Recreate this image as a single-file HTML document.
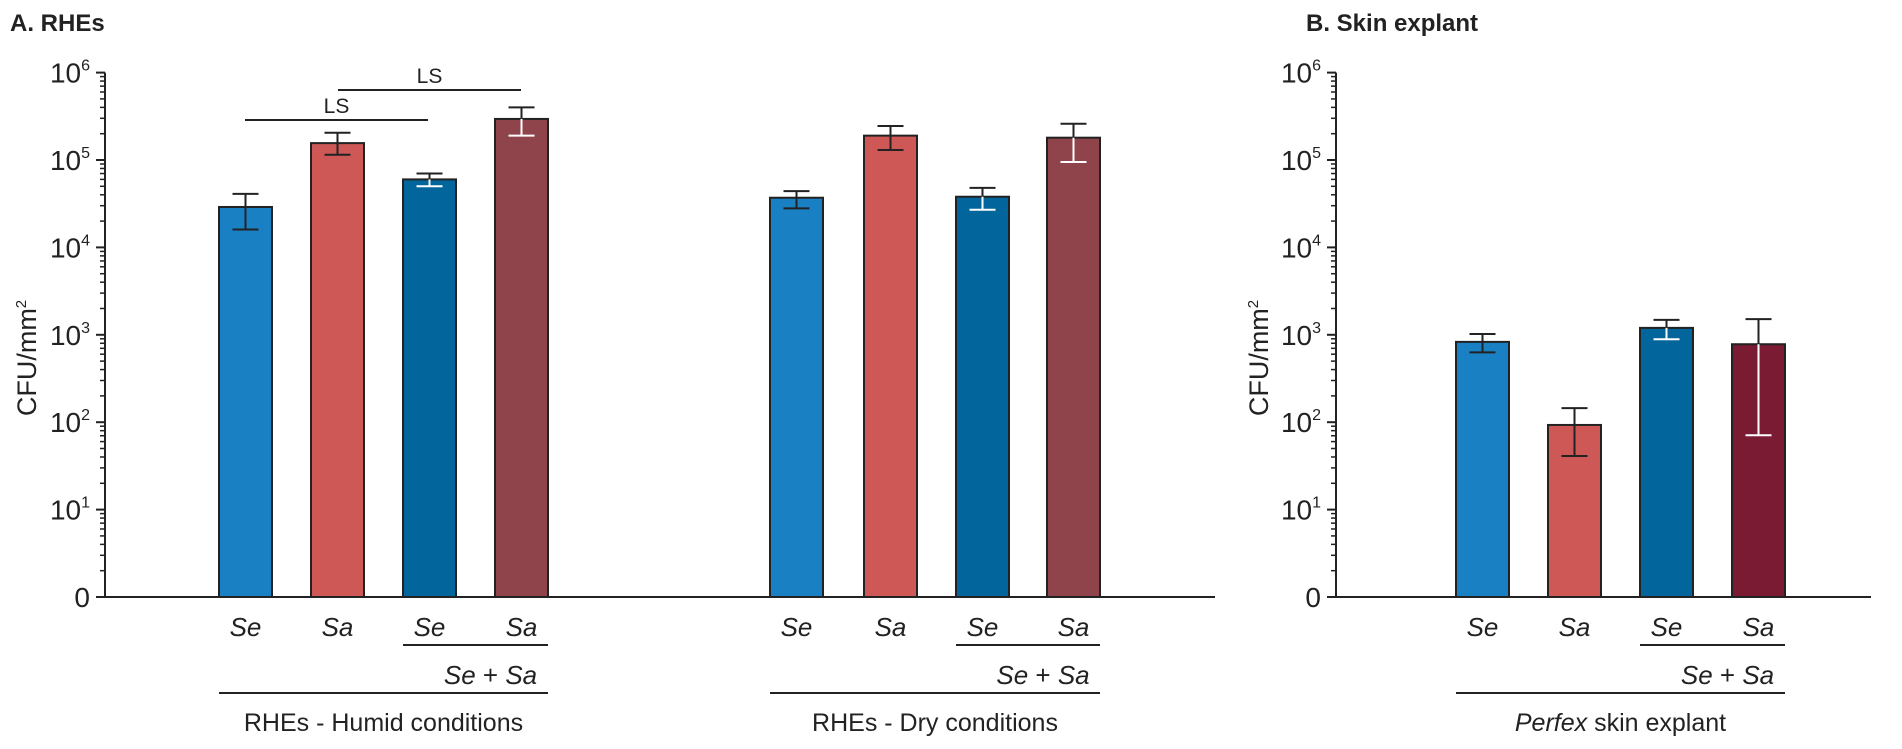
<!DOCTYPE html>
<html><head><meta charset="utf-8"><style>
body{margin:0;background:#fff;}
svg{display:block;font-family:"Liberation Sans Narrow","Liberation Sans",sans-serif;}
</style></head><body>
<svg id="chart" width="1902" height="749" viewBox="0 0 1902 749"></svg>
<script>
const groups = ["RHEs - Humid conditions","RHEs - Dry conditions","Perfex skin explant"];
const barLabels = ["Se","Sa","Se","Sa"];
const humidVals = [29000,156000,60000,295000];
const humidHi = [41000,205000,70000,400000];
const humidLo = [16000,115000,50000,190000];
const dryVals = [37000,190000,38000,180000];
const dryHi = [44000,245000,48000,260000];
const dryLo = [28000,130000,27000,95000];
const skinVals = [830,93,1200,780];
const skinHi = [1020,145,1480,1510];
const skinLo = [630,41,890,71];
const yTickLabels = ["0","1","2","3","4","5","6"];

const NS="http://www.w3.org/2000/svg";
const svg=document.getElementById('chart');
function el(tag,attrs,parent){const e=document.createElementNS(NS,tag);for(const k in attrs)e.setAttribute(k,attrs[k]);(parent||svg).appendChild(e);return e;}
const Y0=597, DEC=87.4;
function y(v){return Y0-DEC*Math.log10(Math.max(v,1));}
const colA=["#1a80c4","#cd5856","#02659c","#8f434a"];
const colB=["#1a80c4","#cd5856","#02659c","#7a1a33"];
const lowWhite=[false,false,true,true];

function axis(ax,x1,x2,labelRight,titleX,name){
  const g=el('g',{});
  
  
  el('line',{x1:ax,y1:y(1e6),x2:ax,y2:Y0,stroke:'#222','stroke-width':2},g);
  el('line',{x1:ax,y1:Y0,x2:x2,y2:Y0,stroke:'#222','stroke-width':2},g);
  for(let d=0;d<6;d++){for(let m=2;m<=9;m++){const yy=y(Math.pow(10,d)*m);el('line',{x1:ax-5,y1:yy,x2:ax,y2:yy,stroke:'#222','stroke-width':1.5},g);}}
  yTickLabels.forEach((t,i)=>{
    const yy=Y0-DEC*i;
    el('line',{x1:ax-9,y1:yy,x2:ax,y2:yy,stroke:'#222','stroke-width':2},g);
    const tx=el('text',{x:labelRight,y:yy+10,'text-anchor':'end','font-size':28,fill:'#222'},g);
    
    
    if(i===0){tx.textContent='0';}
    else{tx.textContent='10';const s=el('tspan',{'font-size':16,dy:-12},tx);s.textContent=t;}
  });
  const tt=el('text',{x:titleX,y:358,'text-anchor':'middle','font-size':27,fill:'#222',transform:`rotate(-90 ${titleX} 358)`},g);
  
  
  tt.textContent='CFU/mm';
  const s2=el('tspan',{'font-size':15,dy:-10},tt);s2.textContent='2';
}
axis(105,105,1215,90,36,'panel-a');
axis(1336,1336,1871,1321,1268,'panel-b');

function group(lefts,vals,hi,lo,cols,gname,italicFirst){
  const W=53;
  lefts.forEach((L,i)=>{
    const cx=L+W/2, top=y(vals[i]);
    const r=el('rect',{x:L,y:top,width:W,height:Y0-top,fill:cols[i],stroke:'#222','stroke-width':2});
    
    
    const eg=el('g',{});
    
    
    el('line',{x1:cx,y1:y(hi[i]),x2:cx,y2:top,stroke:'#222','stroke-width':2},eg);
    el('line',{x1:cx-13,y1:y(hi[i]),x2:cx+13,y2:y(hi[i]),stroke:'#222','stroke-width':2},eg);
    const lc=lowWhite[i]?'#fff':'#222';
    el('line',{x1:cx,y1:top,x2:cx,y2:y(lo[i]),stroke:lc,'stroke-width':2},eg);
    el('line',{x1:cx-13,y1:y(lo[i]),x2:cx+13,y2:y(lo[i]),stroke:lc,'stroke-width':2},eg);
    const t=el('text',{x:cx,y:636,'text-anchor':'middle','font-size':26,'font-style':'italic',fill:'#222'});
    
    
    t.textContent=barLabels[i];
  });
  el('line',{x1:lefts[2],y1:645,x2:lefts[3]+W,y2:645,stroke:'#222','stroke-width':2});
  const mix=el('text',{x:(lefts[2]+lefts[3]+W)/2+15,y:684,'text-anchor':'middle','font-size':26,fill:'#222'});
  
  
  const a=el('tspan',{'font-style':'italic'},mix);a.textContent='Se';
  const b=el('tspan',{},mix);b.textContent=' + ';
  const c=el('tspan',{'font-style':'italic'},mix);c.textContent='Sa';
  el('line',{x1:lefts[0],y1:693,x2:lefts[3]+W,y2:693,stroke:'#222','stroke-width':2});
  const gl=el('text',{x:(lefts[0]+lefts[3]+W)/2,y:731,'text-anchor':'middle','font-size':25,fill:'#222'});
  
  
  if(italicFirst){const p=el('tspan',{'font-style':'italic'},gl);p.textContent='Perfex';const q=el('tspan',{},gl);q.textContent=' skin explant';}
  else gl.textContent=groups[gname==='humid'?0:1];
}
group([219,311,403,495],humidVals,humidHi,humidLo,colA,'humid',false);
group([770,864,956,1047],dryVals,dryHi,dryLo,colA,'dry',false);
group([1456,1548,1640,1732],skinVals,skinHi,skinLo,colB,'skin',true);

[[245,428,120],[338,521,90]].forEach(s=>{
  const g=el('g',{});
  
  
  el('line',{x1:s[0],y1:s[2],x2:s[1],y2:s[2],stroke:'#222','stroke-width':2},g);
  const t=el('text',{x:(s[0]+s[1])/2,y:s[2]-7,'text-anchor':'middle','font-size':21,fill:'#222'},g);
  t.textContent='LS';
});

const ta=el('text',{x:10,y:31,'font-size':24,'font-weight':'bold',fill:'#222'});


ta.textContent='A. RHEs';
const tb=el('text',{x:1306,y:31,'font-size':24,'font-weight':'bold',fill:'#222'});


tb.textContent='B. Skin explant';
</script>
</body></html>
